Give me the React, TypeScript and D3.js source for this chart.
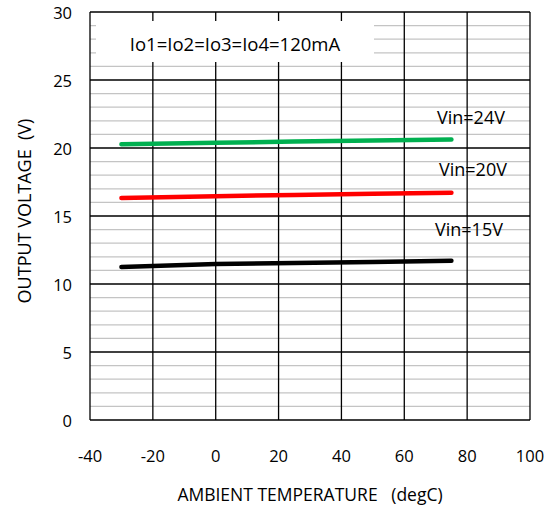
import React from "react";
import * as d3 from "d3";

const temps = [-30, 0, 25, 50, 75];
const vin24 = [20.27, 20.38, 20.47, 20.55, 20.62];
const vin20 = [16.32, 16.45, 16.55, 16.63, 16.71];
const vin15 = [11.25, 11.47, 11.55, 11.62, 11.71];
const seriesNames = ["Vin=24V", "Vin=20V", "Vin=15V"];
const seriesColors = ["#00b050", "#ff0000", "#000000"];
const xTicks = [-40, -20, 0, 20, 40, 60, 80, 100];
const yTicks = [0, 5, 10, 15, 20, 25, 30];
const yMinor = d3.range(0, 31, 1);
const note = "Io1=Io2=Io3=Io4=120mA";
const xTitle = "AMBIENT TEMPERATURE   (degC)";
const yTitle = "OUTPUT VOLTAGE  (V)";

const W = 552, H = 506;
const L = 90, R = 530, T = 12, B = 420;
const FONT = "'Open Sans', sans-serif";

export default function App() {
  const x = d3.scaleLinear().domain([-40, 100]).range([L, R]);
  const y = d3.scaleLinear().domain([0, 30]).range([B, T]);
  const line = d3.line<[number, number]>().x(d => x(d[0])).y(d => y(d[1]));
  const series = [vin24, vin20, vin15];
  const labelPos: [number, number][] = [[437, 117], [439, 169], [435, 229]];
  return (
    <svg width={W} height={H} style={{ position: "absolute", left: 0, top: 0 }}>
      <rect x={0} y={0} width={W} height={H} fill="#fff" />
      {yMinor.filter(v => v % 5 !== 0).map(v => (
        <line key={"m" + v} x1={L} x2={R} y1={y(v)} y2={y(v)} stroke="#c4c4c4" strokeWidth={1.2} />
      ))}
      {xTicks.map(v => (
        <line key={"vx" + v} x1={x(v)} x2={x(v)} y1={T} y2={B} stroke="#000" strokeWidth={1.3} />
      ))}
      {yTicks.map(v => (
        <line key={"hy" + v} x1={L} x2={R} y1={y(v)} y2={y(v)} stroke="#000" strokeWidth={1.3} />
      ))}
      <rect x={96} y={21} width={278} height={41} fill="#fff" />
      <text x={235} y={43} textAnchor="middle" dominantBaseline="central" fontFamily={FONT} fontSize={18.5} fill="#000">{note}</text>
      {series.map((s, i) => (
        <path key={"s" + i} d={line(temps.map((t, j) => [t, s[j]]) as [number, number][]) || ""} fill="none" stroke={seriesColors[i]} strokeWidth={4.5} strokeLinecap="round" />
      ))}
      {seriesNames.map((n, i) => (
        <text key={"n" + i} x={labelPos[i][0]} y={labelPos[i][1]} dominantBaseline="central" fontFamily={FONT} fontSize={18} fill="#000">{n}</text>
      ))}
      {yTicks.map(v => (
        <text key={"yl" + v} x={72} y={y(v)} textAnchor="end" dominantBaseline="central" fontFamily={FONT} fontSize={16.5} fill="#000">{v}</text>
      ))}
      {xTicks.map(v => (
        <text key={"xl" + v} x={x(v)} y={455} textAnchor="middle" dominantBaseline="central" fontFamily={FONT} fontSize={16.5} fill="#000">{v}</text>
      ))}
      <text x={310} y={494} textAnchor="middle" dominantBaseline="central" fontFamily={FONT} fontSize={17.5} fill="#000" style={{ whiteSpace: "pre" }}>{xTitle}</text>
      <text transform="translate(24,211) rotate(-90)" textAnchor="middle" dominantBaseline="central" fontFamily={FONT} fontSize={18} fill="#000" style={{ whiteSpace: "pre" }}>{yTitle}</text>
    </svg>
  );
}
